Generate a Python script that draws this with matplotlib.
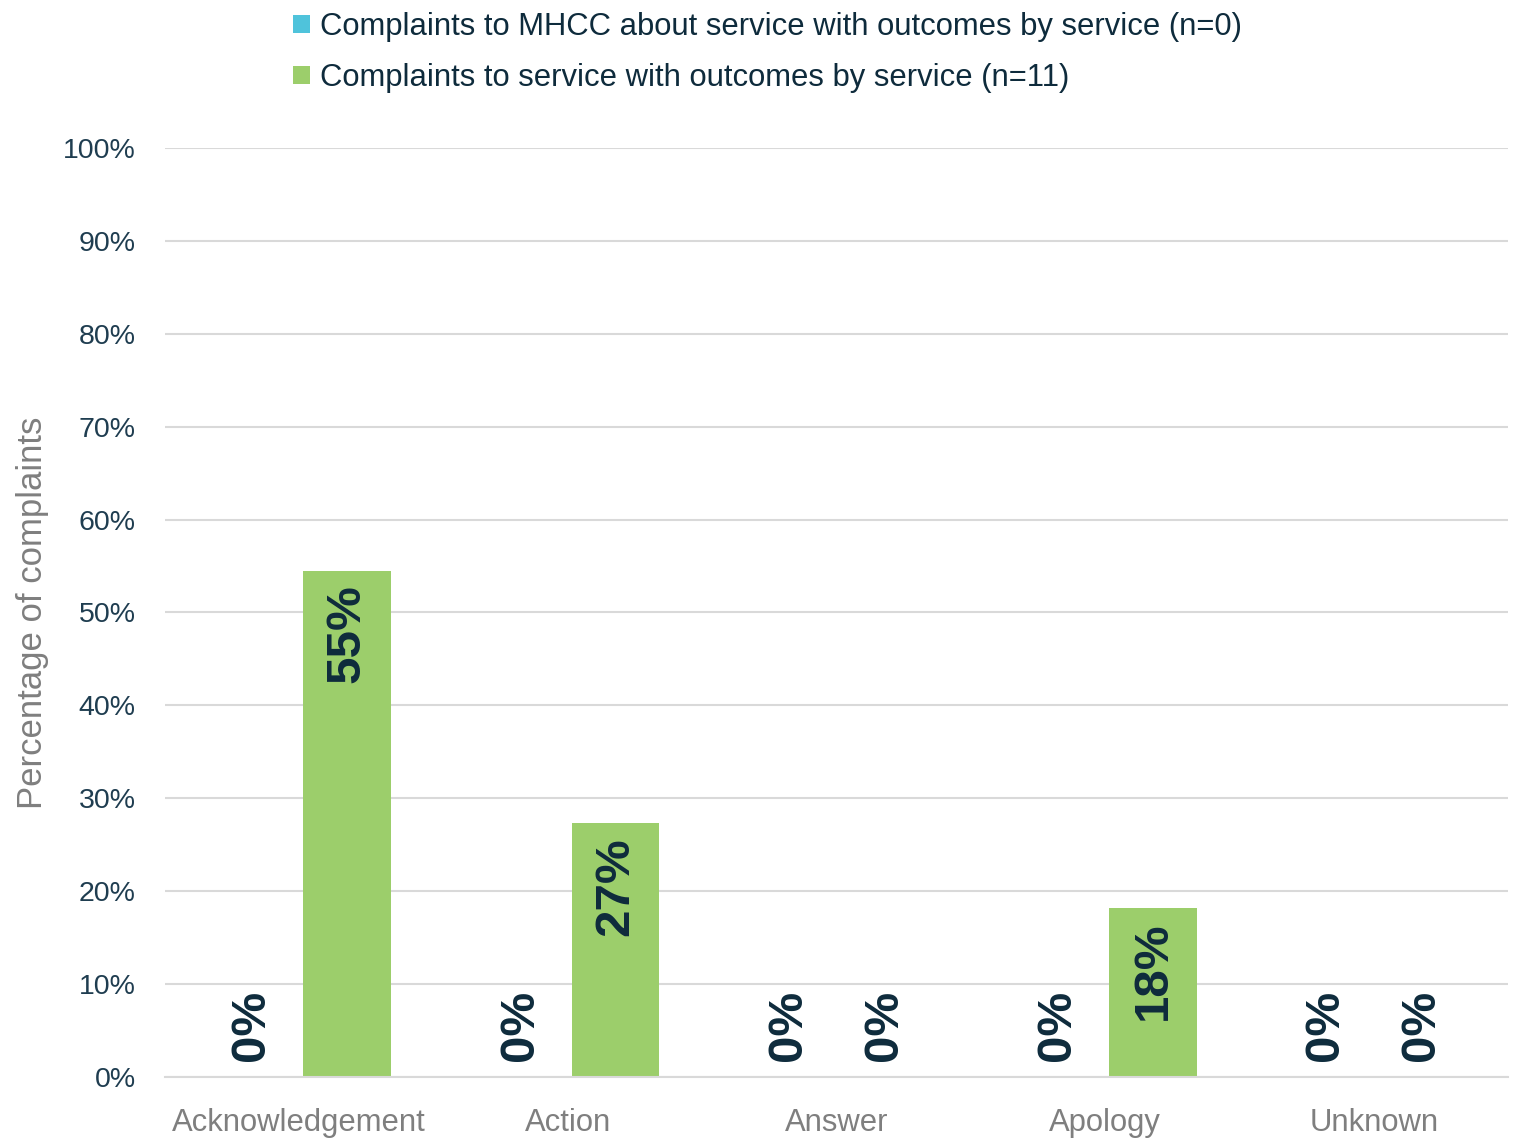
import matplotlib.pyplot as plt
from matplotlib.transforms import offset_copy
import numpy as np

plt.rcParams['font.family'] = ['Liberation Sans', 'DejaVu Sans']

# Data
categories = ['Acknowledgement', 'Action', 'Answer', 'Apology', 'Unknown']
mhcc_values = [0, 0, 0, 0, 0]
service_values = [54.5, 27.3, 0, 18.2, 0]
series_names = ['Complaints to MHCC about service with outcomes by service (n=0)',
                'Complaints to service with outcomes by service (n=11)']
y_ticks = [0, 10, 20, 30, 40, 50, 60, 70, 80, 90, 100]

blue = '#4FC3DB'
green = '#9CCE6B'
dark = '#0E2B3C'
tick_col = '#1F3D50'
grey = '#7F7F7F'

fig = plt.figure(figsize=(15.16, 11.38), dpi=100)
ax = fig.add_axes([0.1088, 0.0536, 0.886, 0.8164])

x = np.arange(len(categories))
w = 0.325
off = 0.178
b1 = ax.bar(x - off, mhcc_values, w, color=blue, label=series_names[0], zorder=2)
b2 = ax.bar(x + off, service_values, w, color=green, label=series_names[1], zorder=2)

ax.set_xlim(-0.5, len(categories) - 0.5)
ax.set_ylim(0, 100)
ax.set_yticks(y_ticks)
ax.set_yticklabels([f'{t}%' for t in y_ticks], fontsize=20.5, color=tick_col)
ax.set_xticks(x)
ax.set_xticklabels(categories, fontsize=22.3, color=grey)
ax.tick_params(axis='both', length=0)
ax.tick_params(axis='y', pad=21)
ax.tick_params(axis='x', pad=22)
ax.grid(axis='y', color='#D9D9D9', linewidth=1.5, zorder=0)
for s in ['top', 'right', 'left']:
    ax.spines[s].set_visible(False)
ax.spines['bottom'].set_color('#D9D9D9')
ax.spines['bottom'].set_linewidth(1.5)

ax.set_ylabel('Percentage of complaints', fontsize=25, color=grey, labelpad=10)

# data labels
for xs, vals in [(x - off, mhcc_values), (x + off, service_values)]:
    for xi, v in zip(xs, vals):
        lbl = f'{int(v + 0.5)}%'
        if v > 0:
            tr = offset_copy(ax.transData, fig=fig, x=0, y=-14, units='dots')
            ax.text(xi, v, lbl, rotation=90, ha='center', va='top',
                    fontsize=35.5, fontweight='bold', color=dark, transform=tr, zorder=3)
        else:
            tr = offset_copy(ax.transData, fig=fig, x=0, y=16, units='dots')
            ax.text(xi, v, lbl, rotation=90, ha='center', va='bottom',
                    fontsize=35.5, fontweight='bold', color=dark, transform=tr, zorder=3)

fig.legend(handles=[b1, b2], loc='upper left', bbox_to_anchor=(0.175, 1.014),
           frameon=False, fontsize=22.3, labelcolor=dark, handlelength=0.55,
           handleheight=0.55, handletextpad=0.3, labelspacing=0.68)

fig.savefig('out.png', dpi=100)
